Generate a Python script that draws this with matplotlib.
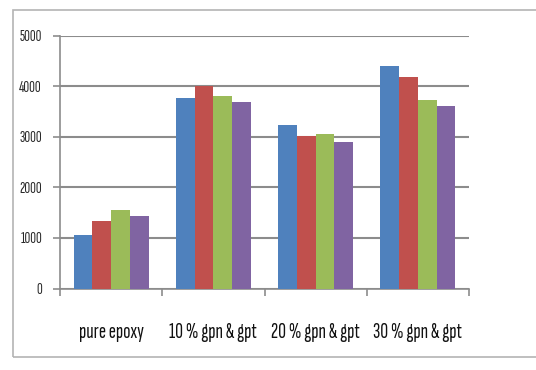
import matplotlib
matplotlib.use("Agg")
import matplotlib.pyplot as plt
from matplotlib.patches import Rectangle
import numpy as np

plt.rcParams['font.family'] = ['Sofia Sans Extra Condensed', 'DejaVu Sans']

categories = ["pure epoxy", "10 % gpn & gpt", "20 % gpn & gpt", "30 % gpn & gpt"]
series_1 = [1060, 3760, 3240, 4400]
series_2 = [1325, 4010, 3005, 4170]
series_3 = [1550, 3795, 3050, 3720]
series_4 = [1440, 3695, 2905, 3610]
y_ticks = [0, 1000, 2000, 3000, 4000, 5000]

series = [series_1, series_2, series_3, series_4]
colors = ["#4F81BD", "#C0504D", "#9BBB59", "#8064A2"]

W, H = 536, 370
fig = plt.figure(figsize=(W / 100, H / 100), dpi=100)
fig.patch.set_facecolor("white")

# outer chart frame
fig.add_artist(Rectangle((13 / W, 1 - 357 / H), 1.2, (357 - 10) / H,
                         transform=fig.transFigure, fill=False,
                         edgecolor="#b4b4b4", linewidth=1.2))

ax = fig.add_axes([60 / W, 1 - 288.5 / H, (469 - 60) / W, (288.5 - 35.5) / H])
x = np.arange(len(categories))
bw = 0.183
for i, (vals, c) in enumerate(zip(series, colors)):
    ax.bar(x + (i - 1.5) * bw, vals, width=bw, color=c, edgecolor="none", zorder=3)

ax.set_xlim(-0.5, len(categories) - 0.5)
ax.set_ylim(0, 5000)
ax.set_yticks(y_ticks)
ax.set_yticklabels([str(v) for v in y_ticks], fontsize=11.5, color="#2a2a2a",
                   fontweight="medium")
ax.yaxis.grid(True, color="#8c8c8c", linewidth=1.5, zorder=0)
ax.set_axisbelow(True)

ax.set_xticks(x)
ax.set_xticklabels(categories, fontsize=15.5, color="#111111", fontweight="medium")
ax.set_xticks(np.arange(-0.5, len(categories)), minor=True)
ax.tick_params(axis="x", which="major", length=0, pad=25)
ax.tick_params(axis="x", which="minor", length=5, color="#8c8c8c", width=1.2)
ax.tick_params(axis="y", length=5, color="#8c8c8c", width=1.2, pad=8)

for side in ("top", "right"):
    ax.spines[side].set_visible(False)
for side in ("left", "bottom"):
    ax.spines[side].set_color("#8c8c8c")
    ax.spines[side].set_linewidth(1.2)

fig.savefig("out.png", dpi=100, facecolor="white")
